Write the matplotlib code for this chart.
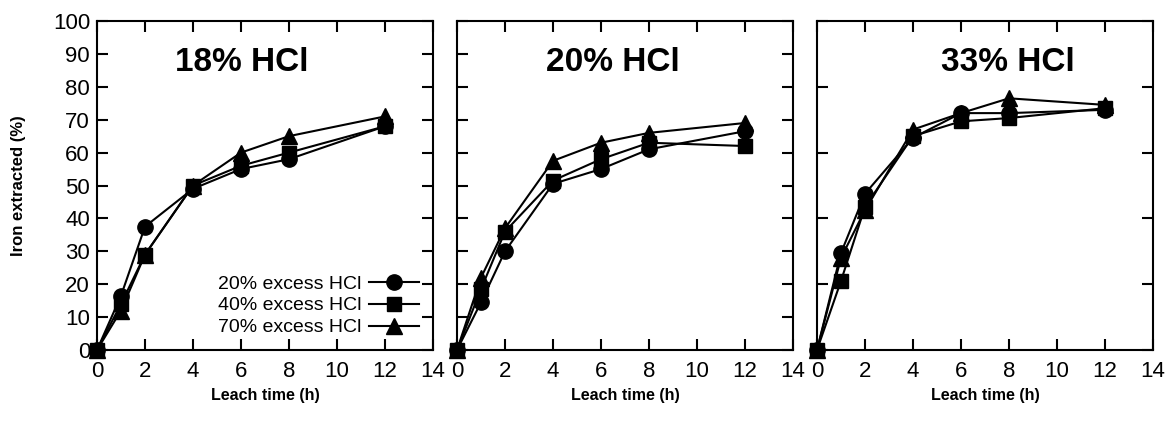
import matplotlib.pyplot as plt
import numpy as np

plt.rcParams['font.family'] = ['Liberation Sans', 'DejaVu Sans']

# leach time (h)
times = [0, 1, 2, 4, 6, 8, 12]

panel_titles = ["18% HCl", "20% HCl", "33% HCl"]
series_labels = ["20% excess HCl", "40% excess HCl", "70% excess HCl"]

# iron extracted (%) per panel, per excess
hcl18_20 = [0, 16.5, 37.5, 49, 55, 58, 68]
hcl18_40 = [0, 14, 29, 50, 56, 60, 68]
hcl18_70 = [0, 12, 29, 50, 60, 65, 71]

hcl20_20 = [0, 14.5, 30, 50.5, 55, 61, 66.5]
hcl20_40 = [0, 18.5, 36, 51.5, 58, 63, 62]
hcl20_70 = [0, 22, 37, 57.5, 63, 66, 69]

hcl33_20 = [0, 29.5, 47.5, 64.5, 72, 72, 73]
hcl33_40 = [0, 21, 43.5, 65, 69.5, 70.5, 73.5]
hcl33_70 = [0, 28, 42.5, 67, 72, 76.5, 74.5]

data = [
    [hcl18_20, hcl18_40, hcl18_70],
    [hcl20_20, hcl20_40, hcl20_70],
    [hcl33_20, hcl33_40, hcl33_70],
]
markers = ['o', 's', '^']
marker_sizes = [11, 10, 12]
title_x = [6.05, 6.5, 7.95]

fig = plt.figure(figsize=(11.76, 4.26), dpi=100)
W, H = 1176, 426
lefts = [97, 457, 817]
ax_w = 336
ax_bottom = 350
ax_top = 21

for k in range(3):
    ax = fig.add_axes([lefts[k] / W, 1 - ax_bottom / H, ax_w / W, (ax_bottom - ax_top) / H])
    for s in range(3):
        ax.plot(times, data[k][s], color='black', lw=1.5, marker=markers[s],
                markersize=marker_sizes[s], label=series_labels[s], clip_on=False, zorder=3)
    ax.set_xlim(0, 14)
    ax.set_ylim(0, 100)
    ax.set_xticks(np.arange(0, 15, 2))
    if k == 2:
        ax.set_yticks(np.arange(0, 101, 20))
    else:
        ax.set_yticks(np.arange(0, 101, 10))
    ax.tick_params(direction='in', length=8, width=1.5, top=True, right=True,
                   labelsize=16)
    ax.tick_params(axis='x', pad=8)
    ax.tick_params(axis='y', pad=5)
    if k > 0:
        ax.set_yticklabels([])
    for sp in ax.spines.values():
        sp.set_linewidth(1.5)
    ax.set_xlabel("Leach time (h)", fontsize=11.5, fontweight='bold', labelpad=4)
    ax.text(title_x[k], 87.5, panel_titles[k], fontsize=24, fontweight='bold',
            ha='center', va='center')
    if k == 0:
        ax.set_ylabel("Iron extracted (%)", fontsize=12, fontweight='bold', labelpad=19)
        ax.legend(loc='lower right', markerfirst=False, frameon=False, fontsize=14,
                  handlelength=2.6, handletextpad=0.4, labelspacing=0.22,
                  borderaxespad=0.3, bbox_to_anchor=(1.0, 0.0))

fig.savefig("out.png", dpi=100)
